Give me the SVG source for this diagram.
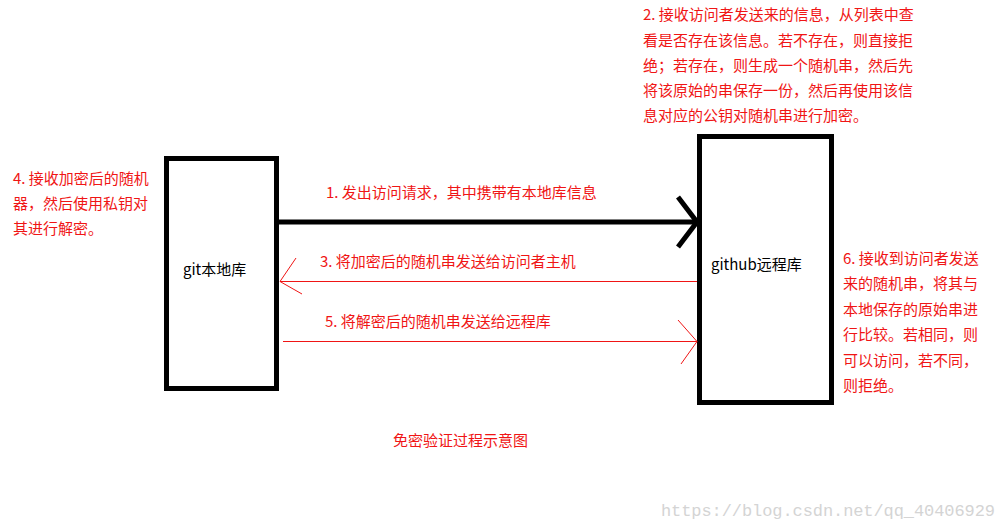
<svg xmlns="http://www.w3.org/2000/svg" width="998" height="529" viewBox="0 0 998 529">
<style>
.box{fill:#fff;stroke:#000;stroke-width:5}
.lbl{font-family:"Microsoft YaHei","Noto Sans CJK SC",sans-serif;font-size:15px;fill:#000}
.red{font-family:"Microsoft YaHei","Noto Sans CJK SC",sans-serif;font-size:15px;fill:#f01515}
.thin{stroke:#f01515;stroke-width:1;fill:none}
.thick{stroke:#000;stroke-width:5;fill:none}
.wm{font-family:"Liberation Mono",monospace;font-size:17px;fill:#d4d4d4}
</style>
<rect width="998" height="529" fill="#fff"/>
<g id="local">
<rect class="box" x="166.5" y="158.5" width="110" height="230"/>
<text class="lbl" x="183" y="275">git本地库</text>
</g>
<g id="remote">
<rect class="box" x="699.5" y="136.5" width="132" height="266"/>
<text class="lbl" x="711" y="270">github远程库</text>
</g>
<g id="connectors">
<path class="thick" d="M279 222 H697"/>
<path class="thick" d="M678 197 L697 222 L678 247"/>
<path class="thin" d="M697 281.5 H280"/>
<path class="thin" d="M296 258 L280 281.5 L302 294"/>
<path class="thin" d="M283 341.5 H697"/>
<path class="thin" d="M678 320 L697 341.5 L681 364"/>
</g>
<g id="labels">
<text class="red" x="326" y="198">1. 发出访问请求，其中携带有本地库信息</text>
<text class="red" x="320" y="267">3. 将加密后的随机串发送给访问者主机</text>
<text class="red" x="325" y="327">5. 将解密后的随机串发送给远程库</text>
</g>
<g id="note2">
<text class="red" x="643" y="20">2. 接收访问者发送来的信息，从列表中查</text>
<text class="red" x="643" y="46">看是否存在该信息。若不存在，则直接拒</text>
<text class="red" x="643" y="71">绝；若存在，则生成一个随机串，然后先</text>
<text class="red" x="643" y="96">将该原始的串保存一份，然后再使用该信</text>
<text class="red" x="643" y="121">息对应的公钥对随机串进行加密。</text>
</g>
<g id="note4">
<text class="red" x="13" y="184">4. 接收加密后的随机</text>
<text class="red" x="13" y="209">器，然后使用私钥对</text>
<text class="red" x="13" y="234">其进行解密。</text>
</g>
<g id="note6">
<text class="red" x="843" y="264">6. 接收到访问者发送</text>
<text class="red" x="843" y="289">来的随机串，将其与</text>
<text class="red" x="843" y="315">本地保存的原始串进</text>
<text class="red" x="843" y="340">行比较。若相同，则</text>
<text class="red" x="843" y="366">可以访问，若不同，</text>
<text class="red" x="843" y="391">则拒绝。</text>
</g>
<g id="caption">
<text class="red" x="393" y="446">免密验证过程示意图</text>
</g>
<text class="wm" x="661" y="516" textLength="334">https://blog.csdn.net/qq_40406929</text>
</svg>
